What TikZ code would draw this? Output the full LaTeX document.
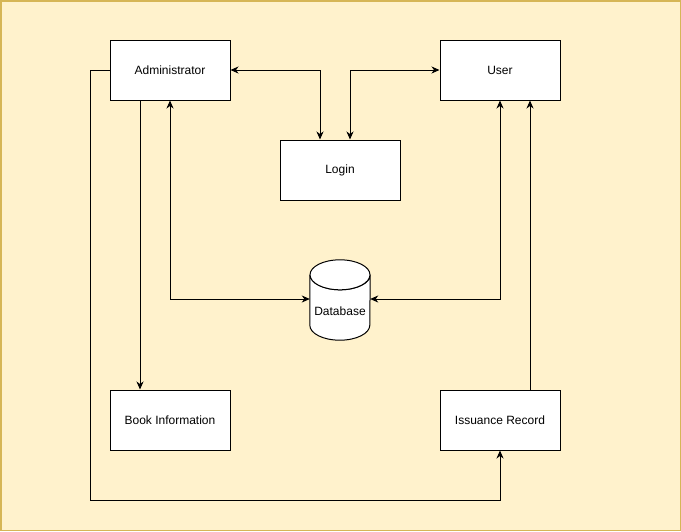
\documentclass[tikz,border=0pt]{standalone}
\usepackage{fontspec}
\setmainfont{Liberation Sans}
\usetikzlibrary{arrows.meta,positioning,calc}
\definecolor{cream}{HTML}{FFF2CC}
\definecolor{goldline}{HTML}{D6B656}
\tikzset{
  entitybox/.style={
    draw=black,
    line width=1pt,
    fill=white,
    minimum width=120pt,
    minimum height=60pt,
    inner sep=0pt,
    font=\fontsize{12}{14}\selectfont
  },
  storebox/.style={
    minimum width=60pt,
    minimum height=80pt,
    inner sep=0pt
  },
  storeline/.style={draw=black,line width=1pt,fill=white},
  oneway/.style={-{Stealth[length=8pt,width=7pt,inset=2.5pt]},line width=1pt,draw=black},
  twoway/.style={{Stealth[length=8pt,width=7pt,inset=2.5pt]}-{Stealth[length=8pt,width=7pt,inset=2.5pt]},line width=1pt,draw=black}
}

\begin{document}
\begin{tikzpicture}[x=1pt,y=-1pt]
\useasboundingbox (0,0) rectangle (681,531);
\fill[cream,draw=goldline,line width=1.5pt] (0.75,0.75) rectangle (680.25,530.25);
\node[entitybox] (admin) at (170,70) {Administrator};
\node[entitybox] (user) at (500,70) {User};
\node[entitybox] (login) at (340,170) {Login};
\node[storebox] (db) at (340,300) {};
% cylinder outline
\draw[storeline] ($(db.north west)+(0,15)$) -- ($(db.south west)+(0,-15)$)
  arc[start angle=180,end angle=0,x radius=30,y radius=15]
  -- ($(db.north east)+(0,15)$)
  arc[start angle=0,end angle=180,x radius=30,y radius=15];
\draw[storeline] ($(db.north)+(0,15)$) ellipse[x radius=30,y radius=15];
\node[font=\fontsize{12}{14}\selectfont] (dblabel) at (340,311) {Database};
\node[entitybox] (book) at (170,420) {Book Information};
\node[entitybox] (issue) at (500,420) {Issuance Record};
\coordinate (loopcorner) at (90,500);
\draw[twoway] (admin.east) -| ([xshift=-20pt]login.north);
\draw[twoway] (user.west) -| ([xshift=10pt]login.north);
\draw[twoway] (admin.south) |- ([yshift=1pt]db.west);
\draw[twoway] (user.south) |- ([yshift=1pt]db.east);
\draw[oneway] ([xshift=-30pt]admin.south) -- ([xshift=-30pt]book.north);
\draw[oneway] (admin.west) -| (loopcorner) -| (issue.south);
\draw[oneway] ([xshift=30pt]issue.north) -- ([xshift=30pt]user.south);
\end{tikzpicture}
\end{document}
